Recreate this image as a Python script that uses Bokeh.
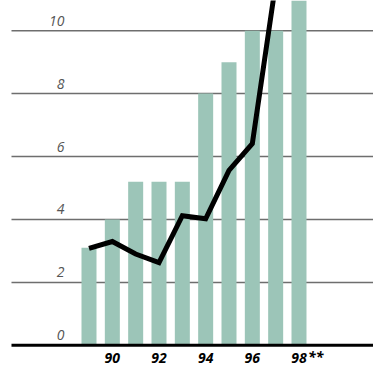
from bokeh.plotting import figure
from bokeh.models import Range1d, ColumnDataSource
from bokeh.core.properties import value
from bokeh.embed import file_html
from bokeh.resources import INLINE

# Data
years = [89, 90, 91, 92, 93, 94, 95, 96, 97, 98]
bar_values = [3.1, 4.0, 5.2, 5.2, 5.2, 8.0, 9.0, 10.0, 10.0, 12.0]
line_years = [89, 90, 91, 92, 93, 94, 95, 96, 97]
line_values = [3.08, 3.3, 2.9, 2.63, 4.12, 4.02, 5.56, 6.41, 11.5]
y_ticks = [0, 2, 4, 6, 8, 10]
x_tick_years = [90, 92, 94, 96, 98]
x_tick_labels = ["90", "92", "94", "96", "98"]

BAR_COLOR = "#9cc5b8"
GRID_COLOR = "#6e6e6e"
FONT = "Open Sans"

PX_PER_UNIT = 31.45
x0, x1 = 85.207, 101.193
grid_start = 85.678
p = figure(width=373, height=366, output_backend="svg", toolbar_location=None,
           x_range=Range1d(x0, x1), y_range=Range1d(-0.674, 10.96),
           min_border=0, min_border_left=0, min_border_right=0,
           min_border_top=0, min_border_bottom=0)
p.axis.visible = False
p.grid.visible = False
p.outline_line_color = None
p.background_fill_color = "white"
p.border_fill_color = "white"

# horizontal gridlines
gy = [t for t in y_ticks if t != 0]
p.segment(x0=[grid_start] * len(gy), x1=[x1] * len(gy), y0=gy, y1=gy,
          line_color=GRID_COLOR, line_width=1.5)

# bars
p.vbar(x=years, top=bar_values, bottom=0, width=0.643,
       fill_color=BAR_COLOR, line_color=None)

# baseline
p.segment(x0=[grid_start], x1=[x1], y0=[0], y1=[0],
          line_color="black", line_width=3)

# line series
p.line(x=line_years, y=line_values, line_color="black", line_width=5,
       line_join="miter")

# y labels, sitting just above their gridlines
label_x = grid_start + (64 - 11) / 23.33
ysrc = ColumnDataSource(dict(x=[label_x] * len(y_ticks),
                             y=[t + 10 / PX_PER_UNIT for t in y_ticks],
                             t=[str(t) for t in y_ticks]))
p.text(x="x", y="y", text="t", source=ysrc, text_align="right",
       text_baseline="middle", text_font=value(FONT),
       text_font_style="italic", text_font_size="14px", text_color="#555555")

# x labels under the baseline
lab_y = -13 / PX_PER_UNIT
xsrc = ColumnDataSource(dict(x=x_tick_years, y=[lab_y] * len(x_tick_years),
                             t=x_tick_labels))
p.text(x="x", y="y", text="t", source=xsrc, text_align="center",
       text_baseline="middle", text_font=value(FONT),
       text_font_style="bold italic", text_font_size="14px", text_color="black")
p.text(x=[98], y=[lab_y], text=["**"], text_align="left", x_offset=9,
       y_offset=-2, text_baseline="middle", text_font=value(FONT),
       text_font_style="bold italic", text_font_size="14px", text_color="black")

open("out.html", "w").write(file_html(p, INLINE))
